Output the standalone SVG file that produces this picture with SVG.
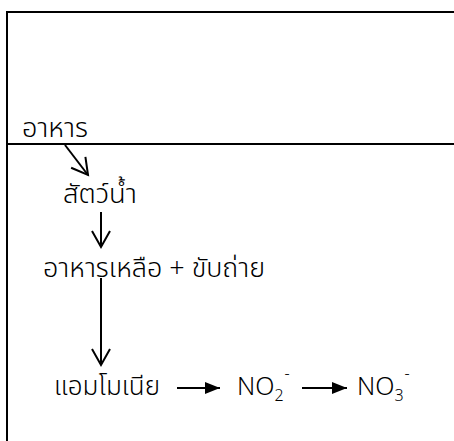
<svg xmlns="http://www.w3.org/2000/svg" width="454" height="441" viewBox="0 0 454 441">
  <style>
    .frame { fill: none; stroke: #000; stroke-width: 2; }
    .lbl { font-family: "Noto Sans Thai", "Noto Sans", "DejaVu Sans", sans-serif; font-size: 27px; font-weight: 300; fill: #000; }
    .chem { font-family: "Noto Sans", "Liberation Sans", sans-serif; font-size: 25px; font-weight: 300; fill: #000; }
    .sub { font-size: 16px; }
    .edge { fill: none; stroke: #000; stroke-width: 2; }
  </style>
  <defs>
    <marker id="open" markerUnits="userSpaceOnUse" markerWidth="24" markerHeight="24" viewBox="-20 -12 24 24" refX="0" refY="0" orient="auto">
      <path d="M-16,-9 L0,0 L-16,9" fill="none" stroke="#000" stroke-width="2"/>
    </marker>
    <marker id="solid" markerUnits="userSpaceOnUse" markerWidth="18" markerHeight="16" viewBox="-16 -8 18 16" refX="0" refY="0" orient="auto">
      <path d="M-15,-6 L0,0 L-15,6 Z" fill="#000"/>
    </marker>
  </defs>

  <rect fill="#fff" width="454" height="441"/>

  <!-- outer frame and divider -->
  <g id="frame">
    <path class="frame" d="M7,460 L7,12 L470,12"/>
    <line class="frame" x1="7" y1="144" x2="470" y2="144"/>
  </g>

  <g id="food">
    <text class="lbl" x="22" y="137" textLength="66" lengthAdjust="spacingAndGlyphs">อาหาร</text>
  </g>
  <g id="aquatic-animals">
    <text class="lbl" x="63" y="203" textLength="74" lengthAdjust="spacingAndGlyphs">สัตว์น้ำ</text>
  </g>
  <g id="leftovers">
    <text class="lbl" x="43" y="277" textLength="222" lengthAdjust="spacingAndGlyphs">อาหารเหลือ + ขับถ่าย</text>
  </g>
  <g id="ammonia">
    <text class="lbl" x="54" y="395" textLength="106" lengthAdjust="spacingAndGlyphs">แอมโมเนีย</text>
  </g>
  <g id="nitrite">
    <text class="chem" x="237" y="395">NO<tspan class="sub" dy="6">2</tspan><tspan class="sub" dx="1" dy="-22">-</tspan></text>
  </g>
  <g id="nitrate">
    <text class="chem" x="357" y="395">NO<tspan class="sub" dy="6">3</tspan><tspan class="sub" dx="1" dy="-22">-</tspan></text>
  </g>

  <g id="connectors">
    <line class="edge" x1="65" y1="145" x2="88" y2="175" marker-end="url(#open)"/>
    <line class="edge" x1="101" y1="212" x2="101" y2="247" marker-end="url(#open)"/>
    <line class="edge" x1="101" y1="278" x2="101" y2="365" marker-end="url(#open)"/>
    <line class="edge" x1="177" y1="388" x2="220" y2="388" marker-end="url(#solid)"/>
    <line class="edge" x1="302" y1="388" x2="347" y2="388" marker-end="url(#solid)"/>
  </g>
</svg>
